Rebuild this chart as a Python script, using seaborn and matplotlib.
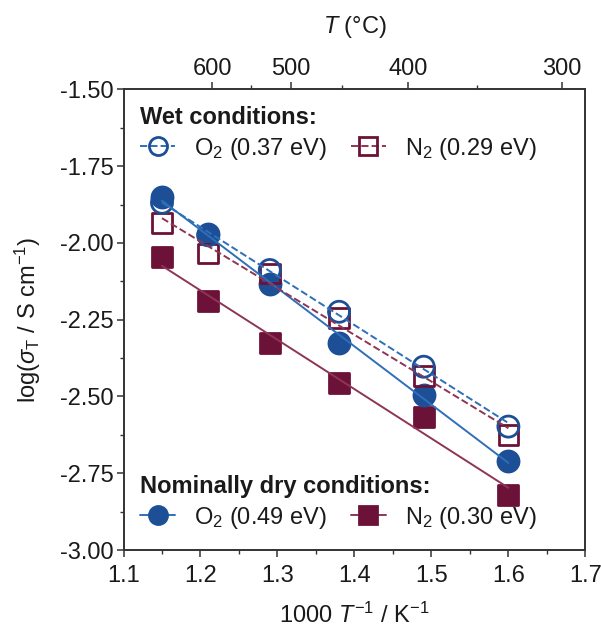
import numpy as np
import pandas as pd
import matplotlib
matplotlib.use("Agg")
import matplotlib.pyplot as plt
from matplotlib.lines import Line2D
import seaborn as sns

# Inverse temperature of each measurement (1000/T, K^-1)
inv_T = [1.15, 1.21, 1.29, 1.38, 1.49, 1.60]

# log10 of total conductivity (S/cm)
wet_O2 = [-1.869, -1.975, -2.088, -2.224, -2.403, -2.598]
wet_N2 = [-1.934, -2.034, -2.099, -2.245, -2.433, -2.625]
dry_O2 = [-1.851, -1.972, -2.134, -2.327, -2.495, -2.710]
dry_N2 = [-2.047, -2.188, -2.327, -2.457, -2.566, -2.821]

# Legend labels with activation energies
wet_labels = [r"O$_2$ (0.37 eV)", r"N$_2$ (0.29 eV)"]
dry_labels = [r"O$_2$ (0.49 eV)", r"N$_2$ (0.30 eV)"]

# Temperature (°C) scale on the top axis
top_major_labels = ["600", "500", "400", "300"]
top_major_pos = [1.2153, 1.3175, 1.4699, 1.6699]
top_minor_pos = [1.2660, 1.3842, 1.5595]

blue = "#1d4f97"
blue_line = "#2f6fb8"
maroon = "#6c1238"
maroon_line = "#8e3557"
ink = "#1a1a1a"
FS = 17

sns.set_theme(style="ticks")
plt.rcParams["font.family"] = ["Liberation Sans", "DejaVu Sans"]
plt.rcParams["mathtext.fontset"] = "custom"
plt.rcParams["mathtext.rm"] = "Liberation Sans"
plt.rcParams["mathtext.it"] = "Liberation Sans:italic"
plt.rcParams["mathtext.bf"] = "Liberation Sans:bold"

df = pd.DataFrame({"x": inv_T, "wet_O2": wet_O2, "wet_N2": wet_N2,
                   "dry_O2": dry_O2, "dry_N2": dry_N2})

fig = plt.figure(figsize=(6.01, 6.28), dpi=100)
ax = fig.add_axes([0.2055, 0.1242, 0.7685, 0.7333])

size = {"o": 230, "s": 200}
series = [
    ("dry_N2", "s", maroon, maroon_line, "-", True),
    ("dry_O2", "o", blue, blue_line, "-", True),
    ("wet_N2", "s", maroon, maroon_line, "--", False),
    ("wet_O2", "o", blue, blue_line, "--", False),
]
for col, mk, mc, lc, ls, filled in series:
    sk = dict(s=size[mk], marker=mk, linewidths=2.0, zorder=3, alpha=1)
    if filled:
        sk.update(facecolors=mc, edgecolors=mc)
    else:
        sk.update(facecolors="none", edgecolors=mc)
    sns.regplot(data=df, x="x", y=col, ax=ax, ci=None, marker=mk,
                scatter_kws=sk,
                line_kws=dict(color=lc, lw=1.4, ls=ls, zorder=4))

ax.set_xlim(1.1, 1.7)
ax.set_ylim(-3.0, -1.5)
ax.set_xticks(np.arange(1.1, 1.71, 0.1))
ax.set_xticks(np.arange(1.15, 1.7, 0.1), minor=True)
ax.set_yticks(np.arange(-3.0, -1.49, 0.25))
ax.set_yticks(np.arange(-2.875, -1.5, 0.25), minor=True)
ax.set_xticklabels([f"{v:.1f}" for v in np.arange(1.1, 1.71, 0.1)])
ax.set_yticklabels([f"{v:.2f}" for v in np.arange(-3.0, -1.49, 0.25)])
ax.tick_params(axis="both", which="major", direction="out", length=5,
               width=1.1, labelsize=FS, color="#333333", labelcolor=ink,
               pad=2)
ax.tick_params(axis="x", which="major", pad=6)
ax.tick_params(axis="both", which="minor", direction="out", length=3,
               width=1.0, color="#333333")
for s in ax.spines.values():
    s.set_linewidth(1.2)
    s.set_color("#333333")
    s.set_visible(True)

ax.set_xlabel(r"1000 $T^{-1}$ / K$^{-1}$", fontsize=FS, labelpad=11,
              color=ink)
ax.set_ylabel(r"log($\sigma_\mathrm{T}$ / S cm$^{-1}$)", fontsize=FS,
              labelpad=12, color=ink)

top = ax.twiny()
top.set_xlim(ax.get_xlim())
top.set_xticks(top_major_pos)
top.set_xticklabels(top_major_labels)
top.set_xticks(top_minor_pos, minor=True)
top.tick_params(axis="x", which="major", direction="out", length=5,
                width=1.1, labelsize=FS, color="#333333", labelcolor=ink,
                pad=2)
top.tick_params(axis="x", which="minor", direction="out", length=3,
                width=1.0, color="#333333")
top.set_xlabel(r"$T$ (°C)", fontsize=FS, labelpad=18, color=ink)
for s in top.spines.values():
    s.set_linewidth(1.2)
    s.set_color("#333333")

def handle(mk, mc, lc, ls, filled):
    return Line2D([], [], marker=mk, markersize=13,
                  markerfacecolor=mc if filled else "none",
                  markeredgecolor=mc, markeredgewidth=2.0,
                  color=lc, lw=1.4, ls=ls)

wet_handles = [handle("o", blue, blue_line, "--", False),
               handle("s", maroon, maroon_line, "--", False)]
dry_handles = [handle("o", blue, blue_line, "-", True),
               handle("s", maroon, maroon_line, "-", True)]

leg_kw = dict(ncol=2, frameon=False, fontsize=FS, handlelength=1.5,
              handletextpad=0.8, columnspacing=1.0, labelspacing=0.3,
              handleheight=1.0,
              title_fontproperties={"weight": "bold", "size": FS},
              alignment="left", borderaxespad=0.3, labelcolor=ink)
leg1 = top.legend(wet_handles, wet_labels, title="Wet conditions:",
                  loc="upper left", bbox_to_anchor=(0.0, 1.0), **leg_kw)
leg2 = top.legend(dry_handles, dry_labels, title="Nominally dry conditions:",
                  loc="lower left", bbox_to_anchor=(0.0, 0.005), **leg_kw)
top.add_artist(leg1)
for lg in (leg1, leg2):
    lg.get_title().set_color(ink)

fig.savefig("out.png", dpi=100)
